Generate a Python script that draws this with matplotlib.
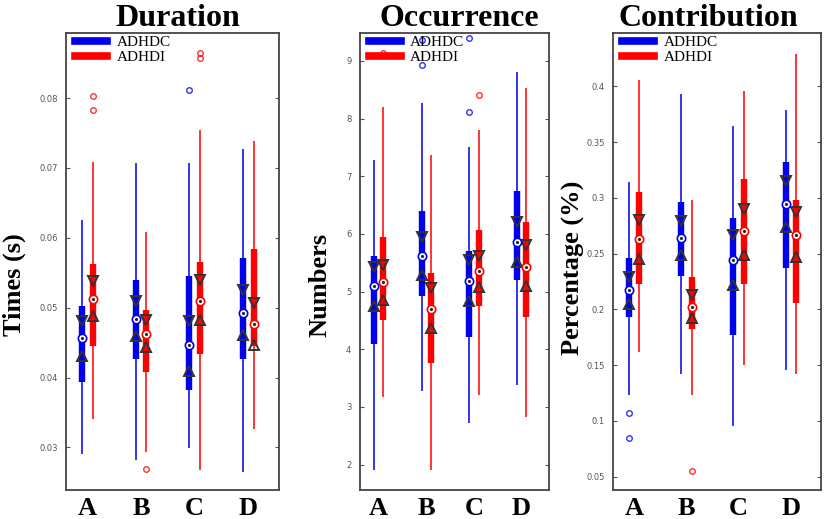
import numpy as np
import matplotlib
matplotlib.use("Agg")
import matplotlib.pyplot as plt
from matplotlib.lines import Line2D

cats = ["A", "B", "C", "D"]
groups = ["ADHDC", "ADHDI"]

# rows per category: [whisker low, q1, notch low, median, notch high, q3, whisker high]
dur_c = [[0.0290, 0.0393, 0.0431, 0.0457, 0.0481, 0.0503, 0.0626],
         [0.0282, 0.0427, 0.0459, 0.0484, 0.0510, 0.0540, 0.0707],
         [0.0299, 0.0382, 0.0410, 0.0446, 0.0481, 0.0545, 0.0707],
         [0.0265, 0.0427, 0.0461, 0.0493, 0.0526, 0.0571, 0.0727]]
dur_i = [[0.0340, 0.0445, 0.0488, 0.0513, 0.0538, 0.0563, 0.0709],
         [0.0293, 0.0408, 0.0443, 0.0463, 0.0482, 0.0497, 0.0608],
         [0.0268, 0.0434, 0.0482, 0.0510, 0.0539, 0.0565, 0.0754],
         [0.0326, 0.0445, 0.0447, 0.0476, 0.0506, 0.0584, 0.0738]]
dur_c_out = [[], [], [0.0811], []]
dur_i_out = [[0.0803, 0.0783], [0.0269], [0.0864, 0.0858], []]

occ_c = [[1.91, 4.09, 4.75, 5.09, 5.42, 5.61, 7.29],
         [3.27, 4.93, 5.29, 5.62, 5.94, 6.40, 8.27],
         [2.72, 4.22, 4.84, 5.19, 5.54, 5.71, 7.51],
         [3.38, 5.20, 5.52, 5.86, 6.21, 6.75, 8.81]]
occ_i = [[3.18, 4.51, 4.86, 5.16, 5.46, 5.95, 8.20],
         [1.90, 3.76, 4.37, 4.70, 5.06, 5.33, 7.37],
         [3.21, 4.75, 5.08, 5.35, 5.62, 6.06, 7.80],
         [2.83, 4.56, 5.09, 5.43, 5.80, 6.20, 8.53]]
occ_c_out = [[], [9.36, 8.93], [8.12, 9.40], []]
occ_i_out = [[9.14], [], [8.41], []]

con_c = [[0.123, 0.193, 0.205, 0.217, 0.229, 0.246, 0.314],
         [0.142, 0.230, 0.249, 0.264, 0.279, 0.296, 0.393],
         [0.095, 0.177, 0.222, 0.244, 0.267, 0.282, 0.364],
         [0.146, 0.237, 0.274, 0.294, 0.315, 0.332, 0.379]]
con_i = [[0.162, 0.223, 0.245, 0.263, 0.280, 0.305, 0.406],
         [0.123, 0.182, 0.192, 0.202, 0.213, 0.229, 0.298],
         [0.150, 0.223, 0.249, 0.270, 0.290, 0.317, 0.396],
         [0.142, 0.206, 0.247, 0.267, 0.287, 0.298, 0.429]]
con_c_out = [[0.107, 0.085], [], [], []]
con_i_out = [[], [0.055], [], []]

titles = ["Duration", "Occurrence", "Contribution"]
ylabels = ["Times (s)", "Numbers", "Percentage (%)"]
yticks = [[0.03, 0.04, 0.05, 0.06, 0.07, 0.08],
          [2, 3, 4, 5, 6, 7, 8, 9],
          [0.05, 0.1, 0.15, 0.2, 0.25, 0.3, 0.35, 0.4]]
ytick_labels = [["0.03", "0.04", "0.05", "0.06", "0.07", "0.08"],
                ["2", "3", "4", "5", "6", "7", "8", "9"],
                ["0.05", "0.1", "0.15", "0.2", "0.25", "0.3", "0.35", "0.4"]]
ylims = [(0.0239, 0.0893), (1.56, 9.48), (0.038, 0.4476)]

panels = [(dur_c, dur_i, dur_c_out, dur_i_out),
          (occ_c, occ_i, occ_c_out, occ_i_out),
          (con_c, con_i, con_c_out, con_i_out)]

colors = ["#0000ee", "#ff0000"]
serif = ["Liberation Serif", "DejaVu Serif"]

fig = plt.figure(figsize=(8.25, 5.19), dpi=100)
axes_pos = [[0.080, 0.056, 0.258, 0.880],
            [0.436, 0.056, 0.229, 0.880],
            [0.743, 0.056, 0.252, 0.880]]
ylabel_xy = [(-0.19, 0.449), (-0.148, 0.449), (-0.136, 0.486)]
title_x = [0.523, 0.529, 0.458]

for k, ax_pos in enumerate(axes_pos):
    ax = fig.add_axes(ax_pos)
    x = np.arange(1, len(cats) + 1)
    for g, (stats, outs) in enumerate([(panels[k][0], panels[k][2]),
                                       (panels[k][1], panels[k][3])]):
        s = np.array(stats)
        xp = x + (-0.1 if g == 0 else 0.1)
        col = colors[g]
        ax.vlines(xp, s[:, 0], s[:, 6], color=col, lw=1.3, alpha=0.85, zorder=2)
        ax.vlines(xp, s[:, 1], s[:, 5], color=col, lw=4.6, zorder=3,
                  capstyle="butt")
        ax.plot(xp, s[:, 4], "v", ms=6.5, mfc="none", mec="#333333", mew=1.4, zorder=4)
        ax.plot(xp, s[:, 2], "^", ms=6.5, mfc="none", mec="#333333", mew=1.4, zorder=4)
        ax.plot(xp, s[:, 3], "o", ms=6, mfc="white", mec=col, mew=1.2, zorder=5)
        ax.plot(xp, s[:, 3], ".", ms=2.5, color="#222222", zorder=6)
        for i, o in enumerate(outs):
            if o:
                ax.plot([xp[i]] * len(o), o, "o", ms=4, mfc="none", mec=col,
                        mew=1.0, alpha=0.8, zorder=4)

    ax.set_xlim(0.6, 4.57)
    ax.set_ylim(*ylims[k])
    ax.set_xticks(x)
    ax.set_xticklabels(cats, fontsize=19, fontweight="bold", family=serif)
    ax.tick_params(axis="x", length=0, pad=5)
    ax.set_yticks(yticks[k])
    ax.set_yticklabels(ytick_labels[k], fontsize=6, color="#555555")
    ax.tick_params(axis="y", direction="in", length=3, right=True,
                   color="#555555", pad=6)
    for sp in ax.spines.values():
        sp.set_color("#444444")
        sp.set_linewidth(1.3)
    ax.set_title(titles[k], fontsize=23, fontweight="bold", family=serif,
                 pad=5, x=title_x[k])
    ax.set_ylabel(ylabels[k], fontsize=19, fontweight="bold", family=serif)
    ax.yaxis.set_label_coords(*ylabel_xy[k])

    handles = [Line2D([], [], color=colors[0], lw=5.5),
               Line2D([], [], color=colors[1], lw=5.5)]
    ax.legend(handles, groups, loc="upper left", bbox_to_anchor=(0.0, 1.015),
              frameon=False, handlelength=2.1, handletextpad=0.6,
              borderaxespad=0.2, labelspacing=0.1,
              prop={"family": serif, "size": 11})

fig.savefig("out.png", dpi=100)
